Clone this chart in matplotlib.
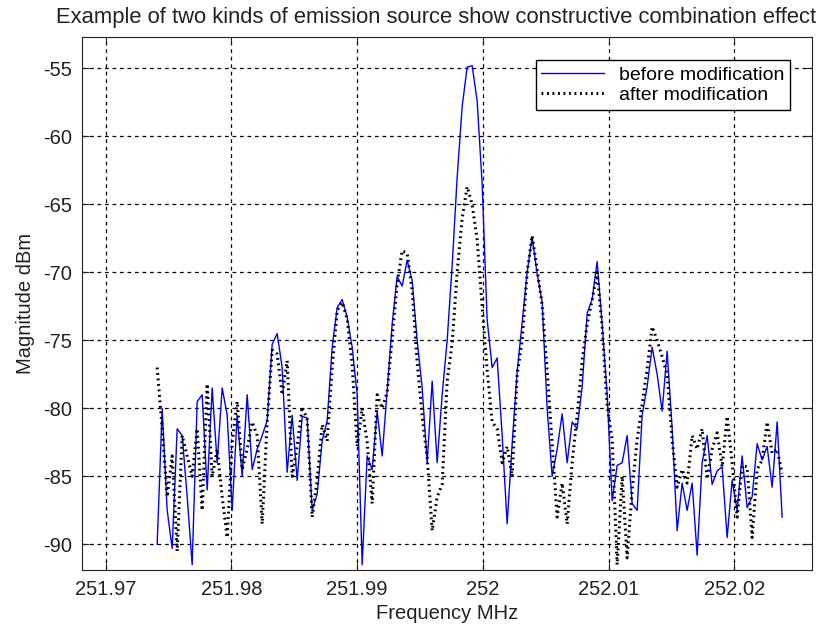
import numpy as np
import matplotlib
matplotlib.use('Agg')
import matplotlib.pyplot as plt

# spectrum values (dBm), equally spaced in frequency
f_start = 251.9741
f_stop = 252.0238

before = [
    -90.0, -80.0, -87.5, -90.3, -81.5, -82.0, -86.5, -91.5, -79.5, -79.0,
    -86.0, -78.5, -84.0, -78.5, -80.5, -87.5, -80.5, -85.0, -79.0, -84.5,
    -83.0, -82.0, -80.9, -75.3, -74.5, -77.0, -84.7, -80.5, -85.3, -80.6,
    -80.7, -87.5, -86.3, -82.4, -80.9, -75.5, -72.6, -72.0, -73.3, -75.5,
    -79.0, -91.5, -83.5, -84.5, -80.2, -83.5, -78.7, -73.8, -70.3, -71.0,
    -69.1, -70.6, -75.0, -78.5, -84.0, -78.0, -84.0, -79.0, -75.0, -69.5,
    -63.0, -57.8, -54.9, -54.8, -57.4, -63.5, -73.5, -77.0, -76.3, -82.0,
    -88.5, -82.6, -77.3, -73.7, -70.0, -67.4, -70.1, -72.2, -80.0, -85.0,
    -83.0, -80.4, -84.0, -81.0, -81.5, -78.4, -73.0, -72.0, -69.2, -73.8,
    -79.0, -86.8, -84.2, -84.0, -82.0, -87.0, -87.5, -80.5, -78.4, -75.5,
    -77.5, -80.2, -75.8, -81.5, -89.0, -85.5, -87.5, -85.5, -90.8, -84.0,
    -82.0, -85.6, -84.6, -84.3, -89.5, -85.3, -87.5, -83.5, -87.3, -86.5,
    -82.6, -83.8, -82.8, -85.8, -81.0, -88.0,
]

after = [
    -77.0, -81.5, -86.5, -83.5, -90.5, -82.0, -83.5, -85.0, -81.5, -87.5,
    -78.2, -85.0, -83.0, -86.5, -89.5, -82.5, -79.5, -84.5, -83.0, -81.0,
    -82.0, -88.5, -81.0, -75.7, -76.0, -79.0, -76.5, -85.0, -82.8, -79.9,
    -80.8, -88.0, -85.3, -81.2, -82.4, -77.0, -72.8, -72.2, -73.4, -76.8,
    -82.8, -80.0, -82.5, -87.0, -79.0, -80.0, -78.8, -74.8, -70.8, -68.4,
    -68.6, -71.3, -76.6, -80.6, -83.6, -89.0, -86.5, -85.6, -78.0, -75.2,
    -70.0, -66.0, -63.7, -65.0, -67.6, -72.5, -77.2, -81.0, -81.5, -84.0,
    -82.8, -85.0, -77.5, -75.0, -70.0, -67.3, -69.8, -72.4, -77.2, -82.6,
    -88.0, -85.5, -88.5, -84.0, -80.5, -76.5, -73.8, -72.0, -70.0, -74.0,
    -79.8, -82.3, -91.5, -85.0, -91.0, -86.0, -82.3, -79.7, -77.1, -74.0,
    -75.0, -76.2, -77.5, -82.3, -85.8, -84.5, -85.5, -82.0, -83.0, -81.5,
    -85.2, -83.0, -81.8, -84.3, -80.6, -84.0, -88.0, -84.2, -84.3, -89.5,
    -84.5, -83.8, -81.0, -83.3, -83.0, -84.8,
]

xticks = [251.97, 251.98, 251.99, 252.0, 252.01, 252.02]
xticklabels = ['251.97', '251.98', '251.99', '252', '252.01', '252.02']
yticks = [-90, -85, -80, -75, -70, -65, -60, -55]

freq = np.linspace(f_start, f_stop, len(before))

plt.rcParams['font.family'] = ['Liberation Sans', 'DejaVu Sans']
plt.rcParams['axes.unicode_minus'] = False

fig = plt.figure(figsize=(8.34, 6.3), dpi=100)
ax = fig.add_axes([0.098, 0.095, 0.876, 0.846])

ax.plot(freq, before, color='#0000ff', lw=1.0, label='before modification')
ax.plot(freq, after, color='black', lw=2.2, linestyle=(0, (0.6, 1.2)),
        label='after modification')

ax.set_xlim(251.9681, 252.0262)
ax.set_ylim(-91.9, -52.7)
ax.set_xticks(xticks)
ax.set_xticklabels(xticklabels)
ax.set_yticks(yticks)
ax.grid(True, color='black', linestyle=(0, (3, 3)), lw=0.9)
ax.tick_params(direction='in', top=True, right=True, labelsize=14.5,
               colors='#222222', length=5, pad=7)
for s in ax.spines.values():
    s.set_color('#222222')

ax.set_xlabel('Frequency MHz', fontsize=14.5, color='#222222', labelpad=4)
ax.set_ylabel('Magnitude dBm', fontsize=14.5, color='#222222', labelpad=6)
ax.set_title('Example of two kinds of emission source show constructive combination effect',
             fontsize=15.8, color='#222222', pad=10, x=0.485)

leg = ax.legend(loc='upper right', fontsize=14, frameon=True, fancybox=False,
                framealpha=1, edgecolor='black', handlelength=3.2,
                borderpad=0.3, labelspacing=0.15, borderaxespad=0,
                bbox_to_anchor=(0.97, 0.957))
leg.get_frame().set_linewidth(1.0)

fig.savefig('out.png', dpi=100)
